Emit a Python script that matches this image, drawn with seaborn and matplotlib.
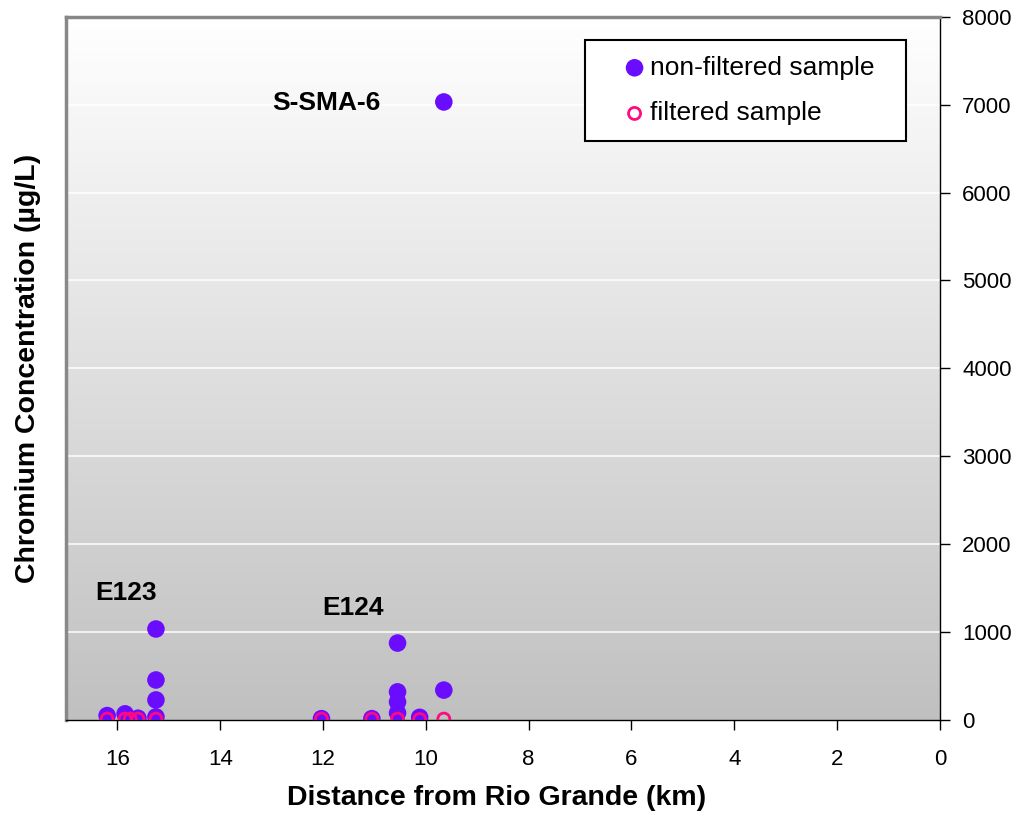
import numpy as np
import pandas as pd
import matplotlib.pyplot as plt
import seaborn as sns

# distances (km) and Cr concentrations (ug/L)
nonfilt_km = [16.2, 15.85, 15.6, 15.25, 15.25, 15.25, 15.25,
              12.03, 11.05, 10.55, 10.55, 10.55, 10.55, 10.12, 9.65, 9.65]
nonfilt_cr = [50, 70, 20, 1035, 455, 228, 35,
              15, 15, 875, 320, 205, 80, 30, 340, 7030]

filt_km = [16.2, 15.85, 15.75, 15.6, 15.25, 12.03, 11.05, 10.55, 10.12, 9.65]
filt_cr = [10, 10, 10, 10, 10, 10, 10, 10, 5, 10]

labels = ['S-SMA-6', 'E123', 'E124']
label_km = [11.93, 15.83, 11.42]
label_cr = [7020, 1440, 1270]

y_ticks = [0, 1000, 2000, 3000, 4000, 5000, 6000, 7000, 8000]
x_ticks = [16, 14, 12, 10, 8, 6, 4, 2, 0]

df_nf = pd.DataFrame({'km': nonfilt_km, 'cr': nonfilt_cr})
df_f = pd.DataFrame({'km': filt_km, 'cr': filt_cr})

sns.set_style('white')
plt.rcParams['font.family'] = ['Liberation Sans', 'DejaVu Sans']
plt.rcParams['text.color'] = 'black'
plt.rcParams['axes.labelcolor'] = 'black'
plt.rcParams['xtick.color'] = 'black'
plt.rcParams['ytick.color'] = 'black'

fig = plt.figure(figsize=(10.15, 8.14), dpi=100)
ax = fig.add_axes([0.065, 0.1155, 0.861, 0.864])

# gradient background, white at top to grey at bottom
g = np.linspace(1.0, 0.753, 256).reshape(-1, 1)
ax.imshow(np.dstack([g, g, g]), extent=[17, 0, 0, 8000], aspect='auto',
          origin='upper', zorder=0)

for yt in y_ticks[1:-1]:
    ax.axhline(yt, color='white', lw=1.3, alpha=0.85, zorder=1)

sns.scatterplot(data=df_nf, x='km', y='cr', ax=ax, color='#6A0DFF', s=160,
                edgecolor='none', zorder=3, label='non-filtered sample')
sns.scatterplot(data=df_f, x='km', y='cr', ax=ax, s=75, facecolor='none',
                edgecolor='#FF0A80', linewidth=2.0, zorder=4, label='filtered sample')

for t, xk, yc in zip(labels, label_km, label_cr):
    ax.text(xk, yc, t, fontsize=19, fontweight='bold', ha='center', va='center', zorder=5)

ax.set_xlim(17, 0)
ax.set_ylim(0, 8000)
ax.set_xticks(x_ticks)
ax.set_yticks(y_ticks)
ax.yaxis.tick_right()
ax.tick_params(axis='both', direction='out', length=7, width=1, color='black',
               labelsize=16, right=True, bottom=True)
ax.tick_params(axis='x', pad=14)
ax.tick_params(axis='y', pad=9)

ax.set_xlabel('Distance from Rio Grande (km)', fontsize=20.5, fontweight='bold')
ax.xaxis.set_label_coords(0.493, -0.093)
ax.set_ylabel('Chromium Concentration (µg/L)', fontsize=20.5, fontweight='bold')
ax.yaxis.set_label_position('left')
ax.yaxis.labelpad = 18

for side in ['left', 'top']:
    ax.spines[side].set_color('#888888')
    ax.spines[side].set_linewidth(2.5)
for side in ['bottom', 'right']:
    ax.spines[side].set_color('black')
    ax.spines[side].set_linewidth(1)

leg = ax.legend(loc='upper left', bbox_to_anchor=(0.594, 0.0, 0.367, 0.967), mode='expand',
                fontsize=19, frameon=True, fancybox=False, edgecolor='black', framealpha=1,
                borderpad=0.6, handletextpad=-0.7, labelspacing=0.82, borderaxespad=0,
                handlelength=2.55)
leg.get_frame().set_linewidth(1.5)

fig.savefig('out.png', dpi=100)
